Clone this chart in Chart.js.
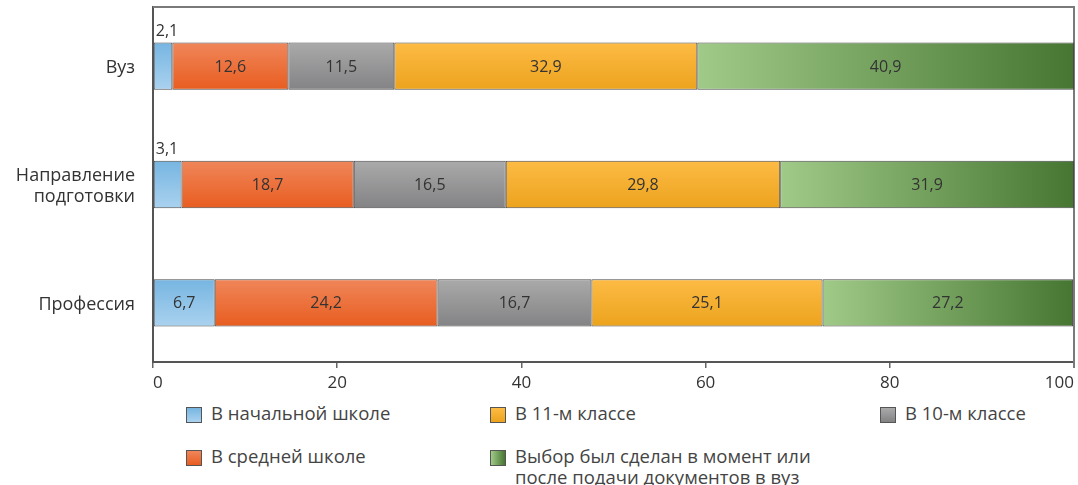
<!DOCTYPE html>
<html>
<head>
<meta charset="utf-8">
<script src="https://cdn.jsdelivr.net/npm/chart.js@4.4.1/dist/chart.umd.min.js"></script>
<style>
  body { margin: 0; background: #fff; font-family: "Open Sans", sans-serif; }
  #wrap { position: relative; width: 1078px; height: 485px; overflow: hidden; }
  #box { position: absolute; left: 0; top: 0; width: 1078px; height: 395px; }
  .leg { position: absolute; font-size: 18.5px; color: #444; line-height: 21px; white-space: nowrap; }
  .sw { position: absolute; width: 14px; height: 14px; border: 1px solid #555; }
</style>
</head>
<body>
<div id="wrap">
  <div id="box"><canvas id="chart"></canvas></div>
  <div id="legend"></div>
</div>
<script>
const categories = ['Вуз', ['Направление', 'подготовки'], 'Профессия'];
const seriesNames = [
  'В начальной школе',
  'В средней школе',
  'В 10-м классе',
  'В 11-м классе',
  'Выбор был сделан в момент или\nпосле подачи документов в вуз'
];
const primarySchool = [2.1, 3.1, 6.7];
const middleSchool = [12.6, 18.7, 24.2];
const grade10 = [11.5, 16.5, 16.7];
const grade11 = [32.9, 29.8, 25.1];
const atApplication = [40.9, 31.9, 27.2];
const xTicks = [0, 20, 40, 60, 80, 100];

const BAR_SHARE = 0.4; // categoryPercentage * barPercentage

// vertical gradient across a bar's height
function verticalFill(top, bottom) {
  return (ctx) => {
    const chart = ctx.chart;
    if (ctx.type !== 'data' || !chart.chartArea) return top;
    const yc = chart.scales.y.getPixelForValue(ctx.dataIndex);
    const half = chart.chartArea.height / categories.length * BAR_SHARE / 2;
    const g = chart.ctx.createLinearGradient(0, yc - half, 0, yc + half);
    g.addColorStop(0, top);
    g.addColorStop(1, bottom);
    return g;
  };
}

// horizontal gradient along the green segment
function horizontalFill(left, right) {
  return (ctx) => {
    const chart = ctx.chart;
    if (ctx.type !== 'data' || !chart.chartArea) return left;
    let start = 0;
    for (let d = 0; d < ctx.datasetIndex; d++) start += chart.data.datasets[d].data[ctx.dataIndex];
    const end = start + ctx.raw;
    const x0 = chart.scales.x.getPixelForValue(start);
    const x1 = chart.scales.x.getPixelForValue(end);
    const g = chart.ctx.createLinearGradient(x0, 0, x1, 0);
    g.addColorStop(0, left);
    g.addColorStop(1, right);
    return g;
  };
}

const fills = [
  ['#76b5e1', '#aad2ef'],
  ['#f0865a', '#e85d20'],
  ['#aaaaab', '#838385'],
  ['#fdbb45', '#eca31d'],
  ['#a0ca88', '#467632']
];

const values = [primarySchool, middleSchool, grade10, grade11, atApplication];

const datasets = values.map((v, i) => ({
  label: seriesNames[i],
  data: v,
  backgroundColor: i === 4 ? horizontalFill(fills[i][0], fills[i][1]) : verticalFill(fills[i][0], fills[i][1]),
  borderColor: '#4a4a4a',
  borderWidth: 1,
  borderSkipped: false,
  categoryPercentage: 0.8,
  barPercentage: 0.5
}));

const fmt = (v) => v.toFixed(1).replace('.', ',');

const frame = {
  id: 'frame',
  beforeDatasetsDraw(chart) {
    const { ctx, chartArea: a } = chart;
    ctx.save();
    ctx.strokeStyle = '#7a7a7a';
    ctx.lineWidth = 2;
    ctx.beginPath();
    ctx.moveTo(a.left, a.top);
    ctx.lineTo(a.right, a.top);
    ctx.lineTo(a.right, a.bottom + 6);
    ctx.stroke();
    ctx.restore();
  }
};

const barLabels = {
  id: 'barLabels',
  afterDatasetsDraw(chart) {
    const ctx = chart.ctx;
    ctx.save();
    ctx.font = '16px "Open Sans"';
    ctx.fillStyle = '#333';
    chart.data.datasets.forEach((ds, di) => {
      chart.getDatasetMeta(di).data.forEach((bar, i) => {
        const p = bar.getProps(['x', 'y', 'base', 'height'], true);
        const w = p.x - p.base;
        const txt = fmt(ds.data[i]);
        if (w < 32) {
          ctx.textAlign = 'left';
          ctx.textBaseline = 'alphabetic';
          ctx.fillText(txt, p.base + 2, p.y - p.height / 2 - 7);
        } else {
          ctx.textAlign = 'center';
          ctx.textBaseline = 'middle';
          ctx.fillText(txt, p.base + w / 2, p.y + 1);
        }
      });
    });
    ctx.restore();
  }
};

new Chart(document.getElementById('chart'), {
  type: 'bar',
  data: { labels: categories, datasets },
  options: {
    indexAxis: 'y',
    responsive: true,
    maintainAspectRatio: false,
    animation: false,
    layout: { padding: { top: 7, right: 4, left: 0, bottom: 0 } },
    plugins: { legend: { display: false }, tooltip: { enabled: false } },
    scales: {
      x: {
        stacked: true,
        min: 0,
        max: 100,
        afterBuildTicks: (s) => { s.ticks = xTicks.map(v => ({ value: v })); },
        afterFit: (s) => { s.paddingRight = 0; s.paddingLeft = 0; s.height = 33; },
        grid: { drawOnChartArea: false, tickLength: 6, color: '#666', lineWidth: 1.5 },
        border: { color: '#555', width: 2 },
        ticks: { color: '#333', font: { family: 'Open Sans', size: 17 }, padding: 5, maxRotation: 0, align: 'inner' }
      },
      y: {
        stacked: true,
        afterFit: (s) => { s.width = 153; s.paddingTop = 0; s.paddingBottom = 0; },
        grid: { display: false },
        border: { color: '#555', width: 2 },
        ticks: { color: '#333', font: { family: 'Open Sans', size: 18 }, padding: 10, lineHeight: 1.15, labelOffset: 2 }
      }
    }
  },
  plugins: [frame, barLabels]
});

// legend laid out in three columns like the original
const legendSpots = [
  { i: 0, x: 186, y: 414 },
  { i: 3, x: 490, y: 414 },
  { i: 2, x: 880, y: 414 },
  { i: 1, x: 186, y: 457 },
  { i: 4, x: 490, y: 457 }
];
const legend = document.getElementById('legend');
legendSpots.forEach(s => {
  const sw = document.createElement('div');
  sw.className = 'sw';
  sw.style.left = s.x + 'px';
  sw.style.top = (s.y - 7) + 'px';
  const f = fills[s.i];
  sw.style.background = s.i === 4
    ? `linear-gradient(to right, ${f[0]}, ${f[1]})`
    : `linear-gradient(to bottom, ${f[0]}, ${f[1]})`;
  legend.appendChild(sw);
  const t = document.createElement('div');
  t.className = 'leg';
  t.style.left = (s.x + 25) + 'px';
  t.style.top = (s.y - 12) + 'px';
  t.innerHTML = seriesNames[s.i].split('\n').join('<br>');
  legend.appendChild(t);
});
</script>
</body>
</html>
